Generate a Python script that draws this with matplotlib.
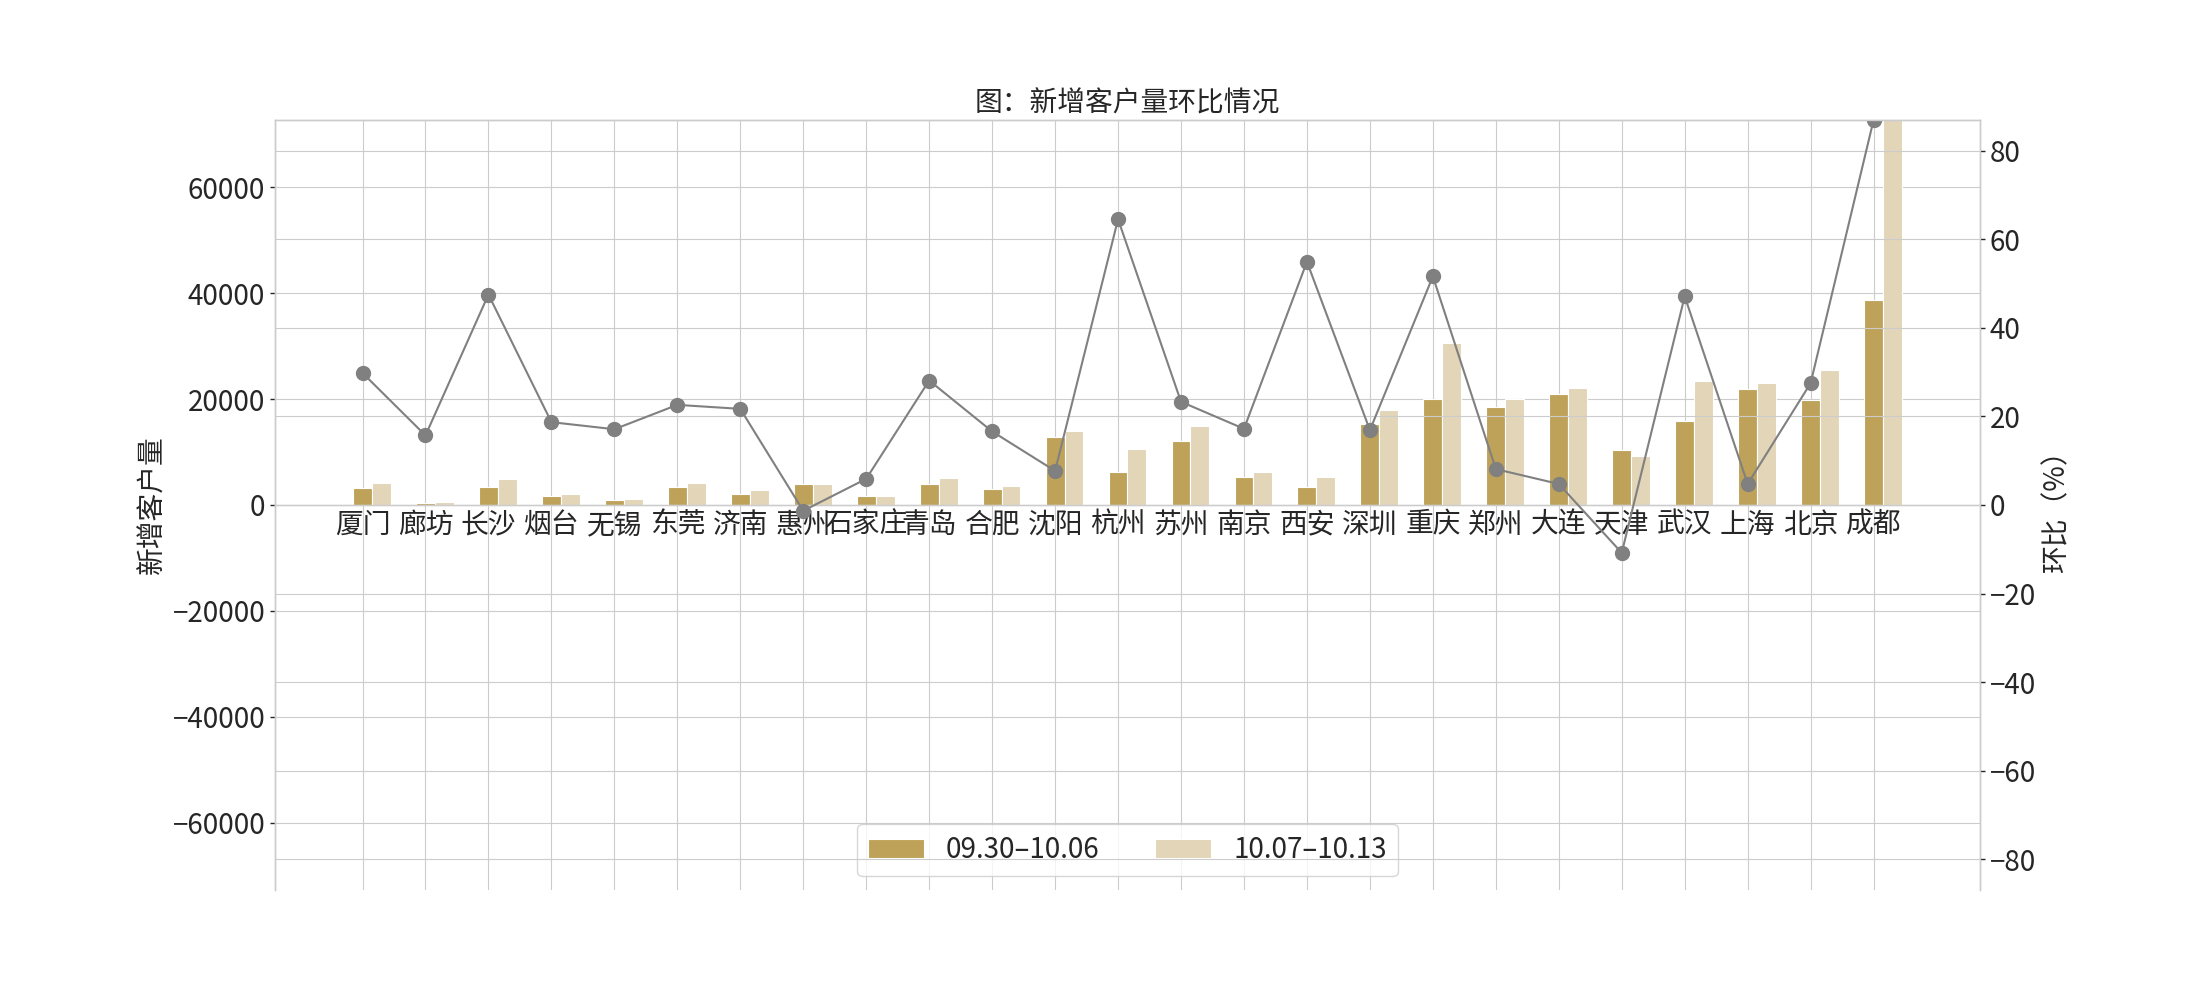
import numpy as np
import matplotlib
matplotlib.use("Agg")
import matplotlib.pyplot as plt

cities = ["厦门", "廊坊", "长沙", "烟台", "无锡", "东莞", "济南", "惠州", "石家庄", "青岛",
          "合肥", "沈阳", "杭州", "苏州", "南京", "西安", "深圳", "重庆", "郑州", "大连",
          "天津", "武汉", "上海", "北京", "成都"]
new_prev = [3250, 420, 3450, 1750, 1000, 3450, 2150, 4050, 1750, 4050,
            3050, 12900, 6300, 12150, 5300, 3400, 15350, 20100, 18550, 21000,
            10400, 15900, 21950, 19900, 38800]
new_curr = [4200, 620, 4950, 2150, 1200, 4200, 2750, 4050, 1750, 5150,
            3600, 14000, 10600, 15000, 6250, 5300, 18000, 30500, 20100, 22000,
            9300, 23500, 23100, 25400, 72700]
ratio = [29.8, 15.7, 47.5, 18.7, 17.1, 22.6, 21.7, -1.3, 5.9, 28.1,
         16.6, 7.7, 64.5, 23.3, 17.2, 54.9, 16.9, 51.6, 8.1, 4.75,
         -10.8, 47.1, 4.75, 27.5, 86.9]
labels = ["09.30–10.06", "10.07–10.13"]

plt.style.use("seaborn-v0_8-whitegrid")
plt.rcParams["font.family"] = ["Noto Sans CJK SC", "DejaVu Sans"]
plt.rcParams["font.size"] = 20
plt.rcParams["ytick.major.size"] = 3.5
plt.rcParams["ytick.major.width"] = 1.0
plt.rcParams["xtick.major.size"] = 0

fig, ax1 = plt.subplots(figsize=(22, 10), dpi=100)
x = np.arange(len(cities))
w = 0.3

ax1.bar(x, new_prev, width=w, color="#BFA25A", edgecolor="white", linewidth=0.8, label=labels[0])
ax1.bar(x + w, new_curr, width=w, color="#E2D5B8", edgecolor="white", linewidth=0.8, label=labels[1])
ax1.set_xticks(x)
ax1.set_xticklabels(cities, fontsize=20)
ax1.set_xlim(-1.39, 25.69)
top = max(new_curr)
ax1.set_ylim(-top, top)
ax1.set_yticks(np.arange(-60000, 60001, 20000))
ax1.tick_params(axis="y", labelsize=20)
ax1.spines["bottom"].set_position(("data", 0))
ax1.set_ylabel("新增客户量", fontsize=20)
ax1.set_title("图：新增客户量环比情况", fontsize=20)
ax1.legend(loc="lower center", ncol=2, frameon=True, fontsize=20)

ax2 = ax1.twinx()
ax2.plot(x, ratio, color="grey", marker="o", markersize=10, linewidth=1.5)
rmax = max(ratio)
ax2.set_ylim(-rmax, rmax)
ax2.set_yticks(np.arange(-80, 81, 20))
ax2.tick_params(axis="y", labelsize=20)
ax2.spines["bottom"].set_visible(False)
ax2.set_ylabel("环比（%）", fontsize=20)

fig.savefig("out.png", dpi=100)
